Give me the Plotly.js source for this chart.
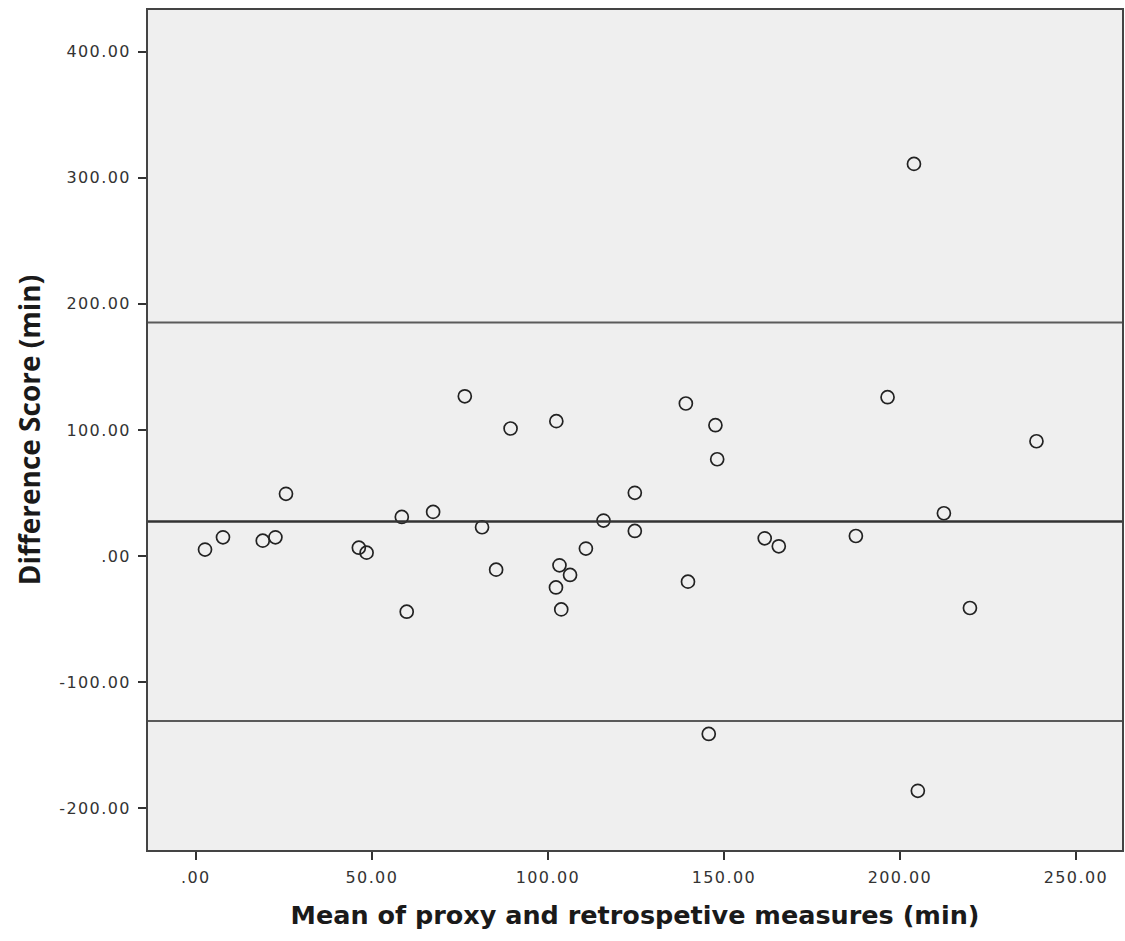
<!DOCTYPE html>
<html>
<head>
<meta charset="utf-8">
<script src="https://cdn.plot.ly/plotly-3.0.1.min.js"></script>
<style>
  html, body { margin: 0; padding: 0; background: #fff; }
  #chart { width: 1125px; height: 941px; }
  .xtick text, .ytick text { letter-spacing: 1.4px; }
</style>
</head>
<body>
<div id="chart"></div>
<script>
// Mean of proxy and retrospective measures (min)
const meanValues = [
  2.6, 7.7, 19.0, 22.6, 25.6, 46.3, 48.5, 58.5, 59.9, 67.4,
  76.4, 81.3, 85.3, 89.4,
  102.4, 102.3, 103.3, 103.8, 106.3, 110.8, 115.8, 124.7, 124.7,
  139.2, 139.8, 145.7, 147.6, 148.1, 161.6, 165.6,
  187.5, 196.5, 204.0, 205.1, 212.5, 219.9, 238.8
];
// Difference Score (min)
const diffValues = [
  5.2, 14.9, 12.3, 14.9, 49.4, 6.7, 2.8, 31.1, -44.0, 35.1,
  126.7, 22.9, -10.7, 101.2,
  107.0, -24.8, -7.3, -42.2, -14.9, 6.0, 28.2, 50.2, 20.0,
  121.0, -20.2, -140.9, 103.8, 76.8, 14.1, 7.8,
  16.0, 126.0, 310.9, -186.0, 34.0, -41.1, 91.1
];
// Reference lines: upper limit, mean difference, lower limit
const refLineNames = ["Upper limit", "Mean", "Lower limit"];
const refLineValues = [185.3, 27.4, -130.6];

const xTickVals = [0, 50, 100, 150, 200, 250];
const xTickText = [".00", "50.00", "100.00", "150.00", "200.00", "250.00"];
const yTickVals = [-200, -100, 0, 100, 200, 300, 400];
const yTickText = ["-200.00", "-100.00", ".00", "100.00", "200.00", "300.00", "400.00"];

const traces = [{
  type: "scatter",
  mode: "markers",
  x: meanValues,
  y: diffValues,
  marker: {
    symbol: "circle-open",
    size: 13,
    color: "#222",
    line: { width: 1.7, color: "#222" }
  },
  hoverinfo: "x+y",
  showlegend: false
}];

const shapes = refLineValues.map((v, i) => ({
  type: "line",
  xref: "paper", x0: 0, x1: 1,
  yref: "y", y0: v, y1: v,
  line: { color: i === 1 ? "#333" : "#5a5a5a", width: i === 1 ? 2.5 : 2 },
  layer: "above"
}));

const layout = {
  width: 1125,
  height: 941,
  margin: { l: 148, r: 3, t: 10, b: 91 },
  paper_bgcolor: "#ffffff",
  plot_bgcolor: "#efefef",
  showlegend: false,
  shapes: shapes,
  xaxis: {
    range: [-13.6, 263.1],
    tickvals: xTickVals,
    ticktext: xTickText,
    ticks: "outside",
    ticklen: 8,
    tickwidth: 2,
    tickcolor: "#333",
    ticklabelstandoff: 4,
    showgrid: false,
    zeroline: false,
    showline: true,
    linecolor: "#444",
    linewidth: 2,
    mirror: true,
    tickfont: { family: "DejaVu Sans", size: 16, color: "#333" },
    title: {
      text: "Mean of proxy and retrospetive measures (min)",
      font: { family: "DejaVu Sans", size: 25.5, color: "#1a1a1a", weight: "bold" },
      standoff: 20
    }
  },
  yaxis: {
    range: [-232.9, 432.9],
    tickvals: yTickVals,
    ticktext: yTickText,
    ticks: "outside",
    ticklen: 8,
    tickwidth: 2,
    tickcolor: "#333",
    ticklabelstandoff: 4,
    showgrid: false,
    zeroline: false,
    showline: true,
    linecolor: "#444",
    linewidth: 2,
    mirror: true,
    tickfont: { family: "DejaVu Sans", size: 16, color: "#333" },
    title: {
      text: "Difference Score (min)",
      font: { family: "Open Sans", size: 28, color: "#1a1a1a", weight: "bold" },
      standoff: 10
    }
  }
};

Plotly.newPlot("chart", traces, layout, { displayModeBar: false, staticPlot: true });
</script>
</body>
</html>
